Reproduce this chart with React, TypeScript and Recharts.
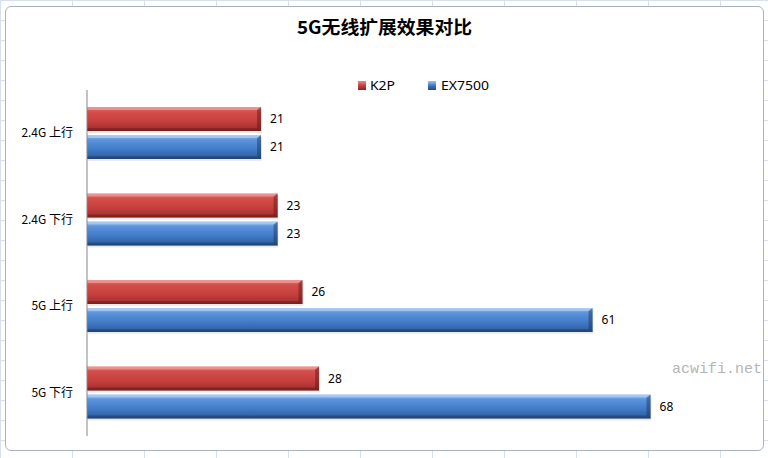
import React from 'react';
import { BarChart, Bar, XAxis, YAxis, LabelList, Legend } from 'recharts';

const categories = ['2.4G 上行', '2.4G 下行', '5G 上行', '5G 下行'];
const k2pValues = [21, 23, 26, 28];
const ex7500Values = [21, 23, 61, 68];
const seriesNames = ['K2P', 'EX7500'];
const xDomain: [number, number] = [0, 80];
const titleText = '5G无线扩展效果对比';
const watermark = 'acwifi.net';

const data = categories.map((c, i) => ({ name: c, k2p: k2pValues[i], ex7500: ex7500Values[i] }));

const CJK = '"Noto Sans CJK SC", "Noto Sans", sans-serif';

const BevelBar = (props: any) => {
  const { x, y, width, height, gradId, dark, light } = props;
  if (!width || width <= 0) return null;
  const b = 3;
  return (
    <g>
      <rect x={x + 1} y={y + 2} width={width} height={height} fill="rgba(0,0,0,0.08)" />
      <rect x={x} y={y} width={width} height={height} fill={`url(#${gradId})`} />
      <polygon
        points={`${x},${y} ${x + width},${y} ${x + width - b},${y + b} ${x},${y + b}`}
        fill={light}
        opacity={0.5}
      />
      <polygon
        points={`${x},${y + height - b} ${x + width - b},${y + height - b} ${x + width},${y + height} ${x},${y + height}`}
        fill={dark}
        opacity={0.4}
      />
      <polygon
        points={`${x + width - 4},${y + b} ${x + width},${y} ${x + width},${y + height} ${x + width - 4},${y + height - b}`}
        fill={dark}
        opacity={0.45}
      />
    </g>
  );
};

const YTick = (props: any) => {
  const { x, y, payload } = props;
  return (
    <text x={x} y={y} dy={4} textAnchor="end" fontSize={12} fontFamily={CJK} fill="#000">
      {payload.value}
    </text>
  );
};

const LegendContent = () => (
  <svg width={768} height={20} style={{ display: 'block' }}>
    <defs>
      <linearGradient id="lgRed" x1="0" y1="0" x2="0" y2="1">
        <stop offset="0" stopColor="#e98a88" />
        <stop offset="0.5" stopColor="#c8413f" />
        <stop offset="1" stopColor="#842524" />
      </linearGradient>
      <linearGradient id="lgBlue" x1="0" y1="0" x2="0" y2="1">
        <stop offset="0" stopColor="#9fc4ef" />
        <stop offset="0.5" stopColor="#4279c4" />
        <stop offset="1" stopColor="#25467c" />
      </linearGradient>
    </defs>
    <rect x={358} y={5} width={8} height={9} fill="url(#lgRed)" />
    <text x={370} y={14} fontSize={13} fontFamily={'"Noto Sans", sans-serif'} fill="#000" textLength={25} lengthAdjust="spacingAndGlyphs">
      {seriesNames[0]}
    </text>
    <rect x={428} y={5} width={8} height={9} fill="url(#lgBlue)" />
    <text x={441} y={14} fontSize={13} fontFamily={'"Noto Sans", sans-serif'} fill="#000" textLength={48} lengthAdjust="spacingAndGlyphs">
      {seriesNames[1]}
    </text>
  </svg>
);

export default function App() {
  return (
    <div
      style={{
        position: 'absolute',
        left: 0,
        top: 0,
        width: 768,
        height: 458,
        overflow: 'hidden',
        backgroundColor: '#ffffff',
        backgroundImage:
          'linear-gradient(to right, #d6e0ee 1px, transparent 1px), linear-gradient(to bottom, #d6e0ee 1px, transparent 1px)',
        backgroundSize: '72px 20px',
      }}
    >
      <div
        style={{
          position: 'absolute',
          left: 5,
          top: 6,
          width: 757,
          height: 443,
          border: '1px solid #a9b3c0',
          borderRadius: 6,
          background: '#ffffff',
        }}
      />
      <svg width={768} height={458} style={{ position: 'absolute', left: 0, top: 0 }}>
        <text
          x={297}
          y={34}
          fontSize={18}
          fontWeight="bold"
          fontFamily={CJK}
          fill="#000"
          textLength={175}
          lengthAdjust="spacingAndGlyphs"
        >
          {titleText}
        </text>
        <text
          x={672}
          y={373}
          fontSize={15}
          fontFamily={'"Liberation Mono", "DejaVu Sans Mono", monospace'}
          fill="#b5b5b5"
          textLength={90}
          lengthAdjust="spacingAndGlyphs"
        >
          {watermark}
        </text>
      </svg>
      <div style={{ position: 'absolute', left: 0, top: 0 }}>
        <BarChart
          width={768}
          height={458}
          data={data}
          layout="vertical"
          margin={{ top: 90, right: 18, bottom: 22, left: 0 }}
          barSize={24}
          barGap={4}
        >
          <defs>
            <linearGradient id="gRed" x1="0" y1="0" x2="0" y2="1">
              <stop offset="0" stopColor="#e67a78" />
              <stop offset="0.2" stopColor="#d44f4c" />
              <stop offset="0.6" stopColor="#c53f3d" />
              <stop offset="0.9" stopColor="#a63230" />
              <stop offset="1" stopColor="#862523" />
            </linearGradient>
            <linearGradient id="gBlue" x1="0" y1="0" x2="0" y2="1">
              <stop offset="0" stopColor="#93bdf0" />
              <stop offset="0.2" stopColor="#5c95dc" />
              <stop offset="0.6" stopColor="#417ac6" />
              <stop offset="0.9" stopColor="#3263a5" />
              <stop offset="1" stopColor="#264a80" />
            </linearGradient>
          </defs>
          <XAxis type="number" domain={xDomain} hide />
          <YAxis
            type="category"
            dataKey="name"
            width={87}
            axisLine={{ stroke: '#868686', strokeWidth: 1 }}
            tickLine={false}
            tickSize={0}
            tickMargin={14}
            tick={<YTick />}
            interval={0}
          />
          <Legend
            verticalAlign="middle"
            align="center"
            content={<LegendContent />}
            wrapperStyle={{ top: 76, left: 0, width: 768, height: 20 }}
          />
          <Bar
            dataKey="k2p"
            name={seriesNames[0]}
            isAnimationActive={false}
            shape={(p: any) => <BevelBar {...p} gradId="gRed" dark="#5a1514" light="#f3b3b1" />}
          >
            <LabelList dataKey="k2p" position="right" offset={9} fill="#000" fontSize={12} fontFamily={'"Noto Sans", sans-serif'} />
          </Bar>
          <Bar
            dataKey="ex7500"
            name={seriesNames[1]}
            isAnimationActive={false}
            shape={(p: any) => <BevelBar {...p} gradId="gBlue" dark="#17325c" light="#c6defa" />}
          >
            <LabelList dataKey="ex7500" position="right" offset={9} fill="#000" fontSize={12} fontFamily={'"Noto Sans", sans-serif'} />
          </Bar>
        </BarChart>
      </div>
    </div>
  );
}
